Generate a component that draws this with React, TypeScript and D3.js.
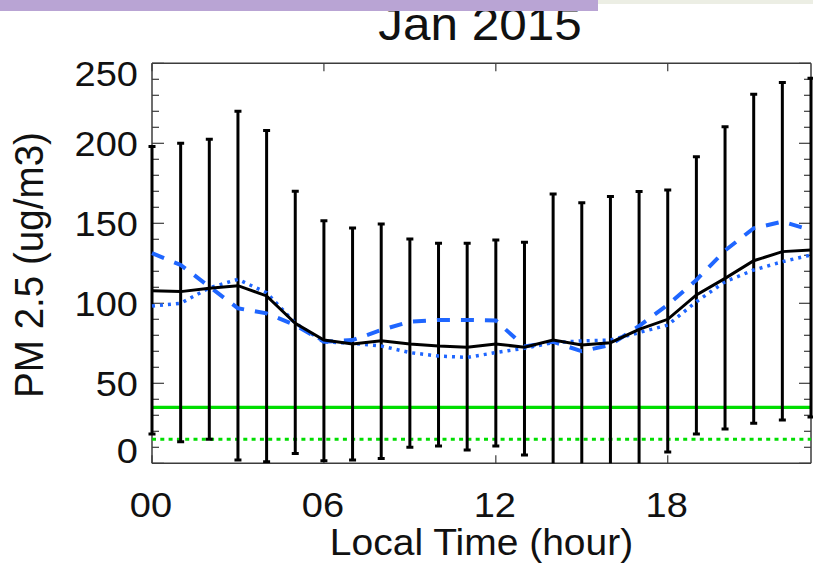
import React from 'react';
import * as d3 from 'd3';

const hours = [0, 1, 2, 3, 4, 5, 6, 7, 8, 9, 10, 11, 12, 13, 14, 15, 16, 17, 18, 19, 20, 21, 22, 23];
const meanPM = [107.9, 107.3, 109.4, 111, 104.6, 87.5, 77, 74.6, 76.6, 74.6, 73.3, 72.5, 74.6, 72.5, 77, 74, 75.4, 83.7, 90, 105.2, 115.6, 126.6, 132.3, 133.3];
const upperPM = [198, 200, 202.5, 220, 208, 170, 151.6, 147, 149.6, 140.2, 137.5, 137.5, 139.6, 138.1, 168.3, 162.9, 166.7, 169.8, 170.8, 191.6, 210.4, 230.6, 238, 240.6];
const lowerPM = [18.3, 13.5, 15, 2, 1, 6.2, 1.6, 2, 3, 10, 10.8, 8.3, 10.8, 5.2, -14, -15, -16, -3, 7, 18.3, 21.4, 25, 27, 29];
const dashedPM = [131.3, 124, 110.4, 96.9, 93.7, 86.4, 76, 77, 83.3, 88.5, 89.6, 89.6, 89.2, 73, 76, 70, 74, 85.8, 99, 114.6, 133, 146.9, 151, 145.8];
const dottedPM = [98.3, 100, 109.6, 115, 106.6, 87.6, 76, 75, 73.3, 69.2, 67, 66.2, 69.2, 71.9, 75.4, 76.5, 77, 81.7, 86.4, 101, 113.5, 120.8, 126, 130.2];
const standardSolid = 35;
const standardDotted = 15;
const yTickValues = [0, 50, 100, 150, 200, 250];
const xTickHours = [0, 6, 12, 18];
const xTickLabels = ['00', '06', '12', '18'];
const titleText = 'Jan 2015';
const xTitleText = 'Local Time (hour)';
const yTitleText = 'PM 2.5 (ug/m3)';

const FONT = "'Liberation Sans', Arial, Helvetica, sans-serif";
const SY = 0.93;

function Label({ x, y, size, anchor = 'middle', rotate = false, children }: any) {
  return (
    <text
      transform={`translate(${x},${y}) scale(1,${SY})${rotate ? ' rotate(-90)' : ''}`}
      fontSize={size}
      textAnchor={anchor}
      fontFamily={FONT}
      fill="#111"
    >
      {children}
    </text>
  );
}

export default function App() {
  const W = 813, H = 566;
  const L = 152, R = 811, T = 63.3, B = 463.3;
  const x = d3.scaleLinear().domain([0, 23]).range([L, R]);
  const y = d3.scaleLinear().domain([0, 250]).range([B, T]);
  const minor = y.ticks(25);

  const lineOf = (vals: number[]) =>
    d3.line<number>().x((_, i) => x(hours[i])).y((d) => y(d))(vals) || '';

  const blue = '#1f66ff';
  const green = '#00dd00';
  const axisColor = '#3c3c3c';

  const tickFont = 38;
  const capTick = 0.716 * tickFont * SY;

  return (
    <svg width={W} height={H} style={{ position: 'absolute', left: 0, top: 0, background: '#fff' }}>
      <defs>
        <clipPath id="plotclip">
          <rect x={L - 4} y={T} width={R - L + 8} height={B - T} />
        </clipPath>
      </defs>
      <rect x={0} y={0} width={W} height={H} fill="#fff" />

      {/* title */}
      <Label x={480} y={39.5} size={49.5}>{titleText}</Label>

      {/* frame */}
      <g stroke={axisColor} strokeWidth={1.5} fill="none">
        <line x1={L} x2={R} y1={T} y2={T} />
        <line x1={L} x2={R} y1={B} y2={B} />
        <line x1={L} x2={L} y1={T} y2={B} />
        <line x1={R} x2={R} y1={T} y2={B} />
      </g>
      {/* y ticks */}
      <g stroke={axisColor} strokeWidth={1.2}>
        {minor.map((v) => {
          const len = v % 50 === 0 ? 12 : 7;
          return (
            <g key={v}>
              <line x1={L} x2={L + len} y1={y(v)} y2={y(v)} />
              <line x1={R} x2={R - len} y1={y(v)} y2={y(v)} />
            </g>
          );
        })}
        {xTickHours.map((h) => (
          <g key={h}>
            <line x1={x(h)} x2={x(h)} y1={B} y2={B - 8} />
            <line x1={x(h)} x2={x(h)} y1={T} y2={T + 8} />
          </g>
        ))}
      </g>

      {/* y tick labels */}
      {yTickValues.map((v) => {
        const cy = Math.min(Math.max(y(v), T + 10), B - 13);
        return (
          <Label key={v} x={138} y={cy + capTick / 2} size={tickFont} anchor="end">{String(v)}</Label>
        );
      })}
      {/* x tick labels */}
      {xTickHours.map((h, i) => (
        <Label key={h} x={x(h) - 1} y={517} size={tickFont}>{xTickLabels[i]}</Label>
      ))}
      <Label x={481.5} y={555} size={39}>{xTitleText}</Label>
      <Label x={43} y={265} size={41.5} rotate>{yTitleText}</Label>

      <g clipPath="url(#plotclip)">
        {/* standards */}
        <line x1={L} x2={R} y1={y(standardSolid)} y2={y(standardSolid)} stroke={green} strokeWidth={3.3} />
        <line x1={L} x2={R} y1={y(standardDotted)} y2={y(standardDotted)} stroke={green} strokeWidth={3} strokeDasharray="4,4.3" />

        {/* error bars */}
        <g stroke="#000" strokeWidth={3}>
          {hours.map((h, i) => (
            <g key={h}>
              <line x1={x(h)} x2={x(h)} y1={y(upperPM[i])} y2={y(lowerPM[i])} />
              <line x1={x(h) - 3.5} x2={x(h) + 3.5} y1={y(upperPM[i])} y2={y(upperPM[i])} />
              <line x1={x(h) - 3.5} x2={x(h) + 3.5} y1={y(lowerPM[i])} y2={y(lowerPM[i])} />
            </g>
          ))}
        </g>

        <path d={lineOf(dottedPM)} fill="none" stroke={blue} strokeWidth={3.5} strokeDasharray="3,5" />
        <path d={lineOf(dashedPM)} fill="none" stroke={blue} strokeWidth={4} strokeDasharray="13,11" />
        <path d={lineOf(meanPM)} fill="none" stroke="#000" strokeWidth={3} />
      </g>

      {/* top strips */}
      <rect x={0} y={0} width={598} height={11} fill="#b9a4d4" />
      <rect x={598} y={0} width={215} height={4} fill="#eceee4" />
    </svg>
  );
}
